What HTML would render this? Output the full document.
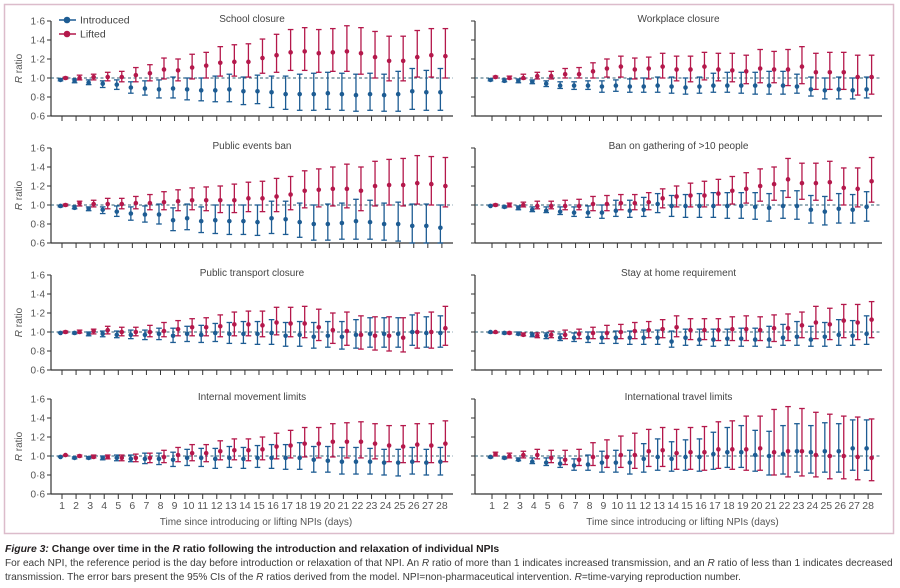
<!DOCTYPE html>
<html><head><meta charset="utf-8"><style>
html,body{margin:0;padding:0;background:#fff;width:900px;height:588px;overflow:hidden}
svg{display:block}
text{font-family:"Liberation Sans",sans-serif}
</style></head><body>
<svg id="fig" width="900" height="588" viewBox="0 0 900 588">
<rect x="4.5" y="4.5" width="889" height="529" fill="none" stroke="#dcbccb" stroke-width="1.5"/>
<g id="panels"></g>
<text x="5" y="552" font-size="10.4" fill="#231f20" font-weight="bold"><tspan font-style="italic">Figure 3:</tspan> Change over time in the <tspan font-style="italic">R</tspan> ratio following the introduction and relaxation of individual NPIs</text>
<text x="5" y="566" font-size="10.1" fill="#3a3a3a">For each NPI, the reference period is the day before introduction or relaxation of that NPI. An <tspan font-style="italic">R</tspan> ratio of more than 1 indicates increased transmission, and an <tspan font-style="italic">R</tspan> ratio of less than 1 indicates decreased</text>
<text x="5" y="580" font-size="10.1" fill="#3a3a3a">transmission. The error bars present the 95% CIs of the <tspan font-style="italic">R</tspan> ratios derived from the model. NPI=non-pharmaceutical intervention. <tspan font-style="italic">R</tspan>=time-varying reproduction number.</text>
</svg>
<script>
const days=[1,2,3,4,5,6,7,8,9,10,11,12,13,14,15,16,17,18,19,20,21,22,23,24,25,26,27,28];
const yTicks=[0.6,0.8,1.0,1.2,1.4,1.6];
const yTickLabels=["0·6","0·8","1·0","1·2","1·4","1·6"];
const titles=["School closure","Workplace closure","Public events ban","Ban on gathering of >10 people","Public transport closure","Stay at home requirement","Internal movement limits","International travel limits"];
const introMean=[
[.98,.97,.95,.94,.93,.90,.89,.88,.89,.88,.87,.87,.88,.86,.86,.85,.83,.83,.83,.84,.83,.82,.83,.82,.83,.86,.85,.85],
[.98,.97,.97,.96,.94,.92,.92,.92,.91,.92,.91,.91,.92,.91,.90,.91,.92,.92,.92,.92,.92,.92,.91,.88,.87,.88,.87,.88],
[.99,.97,.96,.95,.93,.91,.90,.90,.84,.86,.83,.84,.83,.83,.82,.86,.85,.82,.80,.80,.81,.83,.82,.80,.80,.78,.78,.76],
[.99,.98,.97,.95,.94,.93,.92,.92,.92,.94,.94,.95,1.01,.99,.99,.99,.99,.99,.99,.98,.97,.99,.99,.95,.93,.96,.95,.98],
[.99,.99,.98,.98,.97,.97,.97,.98,.96,.98,.97,.99,.98,.98,.98,.99,.96,.97,.95,.96,.95,.97,.98,.98,.98,1.0,.99,.99],
[1.0,.99,.98,.97,.96,.94,.94,.94,.94,.94,.94,.94,.94,.90,.94,.92,.92,.93,.93,.92,.92,.94,.95,.92,.95,.97,.96,.98],
[.99,.98,.98,.98,.98,.97,.97,.97,.96,.98,.98,.97,.98,.97,.98,.98,.98,.98,.96,.95,.94,.94,.94,.93,.93,.94,.93,.94],
[.99,.98,.96,.94,.93,.92,.90,.91,.93,.93,.93,.97,.99,.97,.99,.99,1.02,1.04,1.04,1.01,1.0,1.02,1.05,1.04,1.05,1.05,1.08,1.08]];
const introLo=[
[.97,.95,.93,.90,.88,.84,.82,.79,.79,.77,.76,.75,.75,.72,.73,.69,.67,.66,.66,.67,.66,.65,.66,.65,.65,.67,.66,.66],
[.97,.96,.95,.94,.91,.89,.88,.88,.85,.86,.85,.85,.85,.84,.83,.84,.85,.85,.84,.83,.83,.83,.84,.81,.78,.78,.78,.79],
[.98,.96,.94,.91,.88,.84,.82,.80,.73,.74,.71,.70,.69,.69,.68,.70,.69,.66,.63,.63,.64,.64,.64,.63,.62,.60,.60,.60],
[.99,.97,.95,.93,.92,.90,.88,.87,.86,.88,.87,.88,.92,.88,.87,.87,.87,.86,.86,.85,.83,.86,.85,.81,.79,.81,.81,.83],
[.99,.98,.96,.95,.94,.93,.92,.92,.89,.90,.89,.90,.88,.88,.87,.87,.85,.85,.83,.84,.82,.83,.84,.84,.84,.86,.84,.84],
[.99,.98,.97,.95,.93,.91,.90,.89,.88,.88,.87,.87,.87,.84,.86,.86,.85,.86,.85,.85,.84,.86,.86,.85,.85,.86,.86,.87],
[.99,.97,.97,.96,.95,.94,.92,.91,.89,.90,.89,.87,.88,.87,.88,.87,.86,.86,.83,.83,.81,.81,.81,.80,.79,.81,.80,.80],
[.98,.97,.95,.92,.90,.88,.85,.85,.83,.83,.81,.83,.85,.84,.85,.84,.86,.88,.88,.84,.80,.81,.83,.82,.83,.83,.85,.85]];
const introHi=[
[.99,.99,.98,.97,.98,.96,.97,.98,1.01,1.0,1.0,1.02,1.04,1.01,1.03,1.02,1.02,1.04,1.05,1.06,1.05,1.04,1.05,1.04,1.07,1.10,1.08,1.10],
[.99,.99,.99,.98,.97,.96,.96,.97,.97,.98,.99,1.0,1.01,1.01,1.0,1.01,1.05,1.06,1.06,1.06,1.07,1.07,1.04,1.01,1.0,1.01,1.0,1.01],
[.99,.99,.98,.98,.99,.98,.99,1.01,.97,1.01,.98,1.0,1.0,1.0,1.0,1.04,1.04,1.02,1.0,1.01,1.02,1.06,1.05,1.02,1.03,1.01,1.01,1.0],
[1.0,.99,.99,.98,.98,.98,.98,.99,1.0,1.05,1.05,1.08,1.12,1.10,1.11,1.12,1.13,1.13,1.13,1.13,1.12,1.15,1.15,1.10,1.09,1.12,1.11,1.14],
[1.0,1.0,1.0,1.01,1.01,1.02,1.02,1.04,1.04,1.06,1.07,1.09,1.10,1.11,1.11,1.13,1.10,1.11,1.10,1.11,1.11,1.13,1.15,1.15,1.15,1.18,1.16,1.17],
[1.0,1.0,1.0,.99,.99,.98,.99,1.0,1.0,1.01,1.01,1.02,1.02,1.01,1.03,1.03,1.03,1.03,1.04,1.04,1.06,1.08,1.11,1.06,1.10,1.13,1.12,1.17],
[1.0,.99,.99,1.0,1.01,1.01,1.03,1.03,1.04,1.07,1.08,1.08,1.10,1.09,1.11,1.12,1.12,1.14,1.10,1.10,1.09,1.09,1.08,1.07,1.07,1.09,1.07,1.09],
[.99,.99,.98,.98,.98,.98,.97,1.01,1.05,1.06,1.06,1.13,1.18,1.15,1.17,1.18,1.25,1.30,1.32,1.27,1.26,1.32,1.34,1.32,1.35,1.34,1.38,1.38]];
const liftMean=[
[1.0,1.0,1.01,1.01,1.01,1.03,1.05,1.09,1.08,1.11,1.13,1.16,1.17,1.17,1.21,1.24,1.27,1.28,1.26,1.27,1.28,1.26,1.22,1.18,1.18,1.22,1.24,1.23],
[1.01,1.0,1.0,1.02,1.02,1.04,1.04,1.07,1.10,1.12,1.09,1.10,1.12,1.09,1.09,1.12,1.09,1.08,1.07,1.10,1.09,1.09,1.12,1.06,1.06,1.06,1.01,1.01],
[1.0,1.02,1.01,1.01,1.01,1.02,1.02,1.03,1.04,1.05,1.05,1.05,1.05,1.07,1.07,1.09,1.11,1.15,1.16,1.17,1.17,1.15,1.20,1.21,1.21,1.23,1.22,1.20],
[1.0,1.0,1.0,.99,.99,.99,.99,1.01,1.01,1.02,1.02,1.03,1.07,1.09,1.10,1.10,1.12,1.15,1.17,1.20,1.22,1.27,1.23,1.23,1.24,1.18,1.17,1.25],
[1.0,1.0,1.01,1.02,1.0,1.0,1.0,1.01,1.03,1.05,1.05,1.06,1.08,1.08,1.07,1.10,1.09,1.09,1.05,1.02,1.01,.97,.96,.96,.94,1.0,1.0,1.04],
[1.0,.99,.97,.96,.97,.97,.98,.99,.99,1.0,1.01,1.02,1.03,1.05,1.02,1.02,1.02,1.03,1.03,1.02,1.04,1.04,1.07,1.10,1.08,1.12,1.10,1.13],
[1.01,1.0,.99,.99,.98,.98,.98,.99,1.01,1.03,1.03,1.05,1.06,1.06,1.07,1.10,1.11,1.13,1.13,1.15,1.15,1.15,1.13,1.11,1.10,1.12,1.11,1.13],
[1.02,1.0,1.01,1.01,.98,.96,.96,.99,.99,1.01,1.01,1.05,1.06,1.03,1.04,1.04,1.07,1.07,1.07,1.08,1.04,1.05,1.05,1.01,1.0,1.0,.99,.98]];
const liftLo=[
[.99,.98,.98,.97,.96,.96,.97,.99,.97,.99,1.0,1.02,1.02,1.01,1.05,1.06,1.08,1.08,1.06,1.07,1.07,1.04,1.00,.97,.97,1.01,1.01,1.00],
[1.0,.99,.99,.99,.99,1.0,1.0,1.0,1.01,1.01,.99,.99,1.0,.97,.96,.98,.97,.96,.94,.95,.95,.92,.94,.88,.88,.88,.82,.83],
[.99,.99,.98,.96,.96,.96,.95,.95,.94,.95,.94,.92,.92,.93,.93,.93,.95,.97,.98,.99,.97,.94,.99,1.0,.99,1.01,1.0,.98],
[.99,.98,.98,.96,.96,.95,.95,.94,.94,.95,.95,.95,.97,.98,.98,.98,1.0,1.01,1.02,1.04,1.05,1.08,1.06,1.05,1.05,1.0,.98,1.03],
[.99,.99,.98,.98,.96,.96,.95,.95,.96,.96,.96,.95,.96,.96,.95,.97,.95,.94,.91,.88,.86,.82,.81,.80,.79,.83,.83,.86],
[.99,.98,.96,.94,.94,.93,.93,.93,.93,.93,.93,.94,.94,.95,.92,.92,.91,.91,.91,.91,.90,.91,.94,.93,.92,.94,.92,.94],
[1.0,.99,.98,.97,.95,.94,.93,.93,.94,.95,.94,.96,.96,.95,.96,.97,.98,.99,.98,.99,.98,.98,.97,.94,.93,.94,.93,.94],
[1.0,.98,.98,.97,.93,.91,.90,.90,.88,.88,.87,.89,.89,.86,.86,.85,.87,.86,.85,.85,.80,.78,.79,.78,.76,.76,.75,.74]];
const liftHi=[
[1.01,1.03,1.04,1.06,1.07,1.11,1.14,1.21,1.20,1.25,1.27,1.33,1.35,1.36,1.41,1.46,1.51,1.53,1.51,1.52,1.55,1.53,1.49,1.44,1.44,1.50,1.52,1.52],
[1.02,1.02,1.04,1.06,1.07,1.10,1.11,1.16,1.20,1.23,1.21,1.22,1.26,1.23,1.23,1.27,1.26,1.26,1.24,1.30,1.28,1.30,1.33,1.26,1.27,1.27,1.24,1.24],
[1.01,1.04,1.05,1.07,1.07,1.09,1.11,1.14,1.16,1.18,1.19,1.20,1.22,1.24,1.25,1.28,1.30,1.36,1.38,1.40,1.43,1.40,1.46,1.48,1.49,1.52,1.51,1.50],
[1.01,1.02,1.03,1.04,1.04,1.05,1.06,1.09,1.10,1.11,1.11,1.13,1.17,1.20,1.23,1.25,1.27,1.30,1.34,1.38,1.40,1.49,1.44,1.44,1.46,1.39,1.39,1.50],
[1.01,1.02,1.03,1.06,1.05,1.05,1.07,1.10,1.12,1.14,1.15,1.18,1.21,1.22,1.22,1.26,1.26,1.27,1.24,1.20,1.21,1.17,1.16,1.16,1.15,1.20,1.21,1.27],
[1.0,1.0,.99,.99,1.01,1.02,1.03,1.05,1.07,1.08,1.10,1.11,1.13,1.17,1.14,1.14,1.14,1.16,1.17,1.16,1.18,1.19,1.21,1.27,1.25,1.29,1.29,1.32],
[1.01,1.01,1.01,1.01,1.01,1.02,1.03,1.06,1.09,1.12,1.12,1.16,1.18,1.18,1.20,1.24,1.27,1.30,1.30,1.34,1.35,1.36,1.34,1.32,1.32,1.34,1.34,1.37],
[1.04,1.03,1.05,1.07,1.06,1.06,1.07,1.14,1.17,1.21,1.24,1.28,1.30,1.28,1.30,1.31,1.36,1.37,1.42,1.42,1.49,1.52,1.50,1.46,1.44,1.42,1.41,1.39]];

const NS="http://www.w3.org/2000/svg";
const BLUE="#1d5c93", RED="#b4184b", AX="#333";
const root=document.getElementById('panels');
function mk(tag,attrs,parent){const e=document.createElementNS(NS,tag);for(const k in attrs)e.setAttribute(k,attrs[k]);parent.appendChild(e);return e;}
const rowTops=[21,148,275,399], PH=95;
const cols=[{axis:51,right:453,x1:62,dx:14.07},{axis:475,right:882,x1:492,dx:13.93}];
titles.forEach((title,i)=>{
  const c=cols[i%2], top=rowTops[Math.floor(i/2)], bot=top+PH;
  const g=mk('g',{},root);
  
  
  const yS=v=>bot-(v-0.6)/1.0*PH;
  const xS=d=>c.x1+(d-1)*c.dx;
  const t=mk('text',{x:(c.axis+c.right)/2,y:top+1,'font-size':10,'text-anchor':'middle',fill:'#444'},g);
  t.textContent=title;
  
  
  const ya=mk('line',{x1:c.axis,x2:c.axis,y1:top,y2:bot,stroke:AX,'stroke-width':1.2},g);
  
  
  const xa=mk('line',{x1:c.axis,x2:c.right,y1:bot,y2:bot,stroke:AX,'stroke-width':1.2},g);
  
  
  yTicks.forEach((v,k)=>{
    mk('line',{x1:c.axis-4,x2:c.axis,y1:yS(v),y2:yS(v),stroke:AX,'stroke-width':1},g);
    if(i%2===0){
      const l=mk('text',{x:c.axis-6,y:yS(v)+3.5,'font-size':10,'text-anchor':'end',fill:'#555'},g);
      l.textContent=yTickLabels[k];
      
      
    }
  });
  if(i%2===0){
    const yt=mk('text',{x:0,y:0,'font-size':10,'text-anchor':'middle',fill:'#555',transform:`translate(${c.axis-29},${(top+bot)/2}) rotate(-90)`},g);
    yt.innerHTML='<tspan font-style="italic">R</tspan> ratio';
    
    
  }
  const ref=mk('line',{x1:c.axis,x2:c.right,y1:yS(1),y2:yS(1),stroke:'#2f5d72','stroke-width':1,'stroke-dasharray':'3,2.5'},g);
  
  
  days.forEach((d,j)=>{
    mk('line',{x1:xS(d),x2:xS(d),y1:bot,y2:bot+5,stroke:AX,'stroke-width':1},g);
    if(i>=6){
      const l=mk('text',{x:xS(d),y:bot+15,'font-size':10.5,'text-anchor':'middle',fill:'#555'},g);
      l.textContent=d;
      
      
    }
    [[introMean,introLo,introHi,BLUE,-1.5,'introduced'],[liftMean,liftLo,liftHi,RED,3.5,'lifted']].forEach(s=>{
      const x=xS(d)+s[4], m=s[0][i][j], lo=s[1][i][j], hi=s[2][i][j];
      const eb=mk('g',{stroke:s[3],'stroke-width':1.3,fill:s[3]},g);
      
      
      mk('line',{x1:x,x2:x,y1:yS(lo),y2:yS(hi)},eb);
      mk('line',{x1:x-2.8,x2:x+2.8,y1:yS(lo),y2:yS(lo)},eb);
      mk('line',{x1:x-2.8,x2:x+2.8,y1:yS(hi),y2:yS(hi)},eb);
      const p=mk('circle',{cx:x,cy:yS(m),r:2.3,stroke:'none'},eb);
      
      
    });
  });
  if(i>=6){
    const xt=mk('text',{x:(c.axis+c.right)/2+4,y:bot+31,'font-size':10,'text-anchor':'middle',fill:'#555'},g);
    xt.textContent='Time since introducing or lifting NPIs (days)';
    
    
  }
});
const lg=mk('g',{},root);


[[BLUE,'Introduced',20],[RED,'Lifted',34]].forEach(e=>{
  const it=mk('g',{},lg);
  
  
  mk('line',{x1:59,x2:76,y1:e[2],y2:e[2],stroke:e[0],'stroke-width':1.5},it);
  mk('circle',{cx:67,cy:e[2],r:3.3,fill:e[0]},it);
  const t=mk('text',{x:80,y:e[2]+3.5,'font-size':10.5,fill:'#444'},it);
  t.textContent=e[1];
});
</script>
</body></html>
